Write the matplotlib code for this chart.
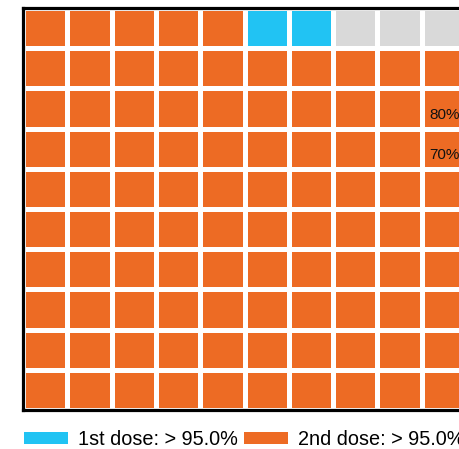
import numpy as np
import matplotlib.pyplot as plt
from matplotlib.colors import ListedColormap
from matplotlib.patches import Patch

# waffle data: 100 cells, filled row by row from bottom-left
categories = ['2nd dose', '1st dose', 'remaining']
counts = [95, 2, 3]
colors = ['#ED6B24', '#21C3F3', '#D9D9D9']
legend_labels = ['1st dose: > 95.0%', '2nd dose: > 95.0%']
ref_labels = ['80%', '70%']
ref_y = [7.35, 6.35]

n_rows, n_cols = 10, 10
cells = np.repeat(np.arange(len(counts)), counts)
grid = cells.reshape(n_rows, n_cols)

plt.rcParams['font.family'] = ['Liberation Sans', 'DejaVu Sans']

fig = plt.figure(figsize=(4.59, 4.49), dpi=100)
ax = fig.add_axes([23/459, 39/449, 443/459, 402/449])

ax.pcolormesh(np.arange(n_cols + 1), np.arange(n_rows + 1), grid,
              cmap=ListedColormap(colors), vmin=-0.5, vmax=2.5,
              edgecolor='white', linewidth=2.2)
ax.set_xlim(0, n_cols)
ax.set_ylim(0, n_rows)
ax.set_xticks([])
ax.set_yticks([])
for s in ['left', 'top', 'bottom', 'right']:
    ax.spines[s].set_linewidth(2.3)
    ax.spines[s].set_color('black')

for lab, y in zip(ref_labels, ref_y):
    ax.text(9.18, y, lab, fontsize=11, va='center', ha='left', color='#111111')

handles = [Patch(facecolor=colors[1]), Patch(facecolor=colors[0])]
fig.legend(handles, legend_labels, loc='center left', bbox_to_anchor=(24/459, 0.021),
           ncol=2, frameon=False, fontsize=14.3, handlelength=2.2, handleheight=0.6,
           handletextpad=0.5, columnspacing=0.35, borderpad=0, borderaxespad=0)

fig.savefig('out.png', dpi=100)
